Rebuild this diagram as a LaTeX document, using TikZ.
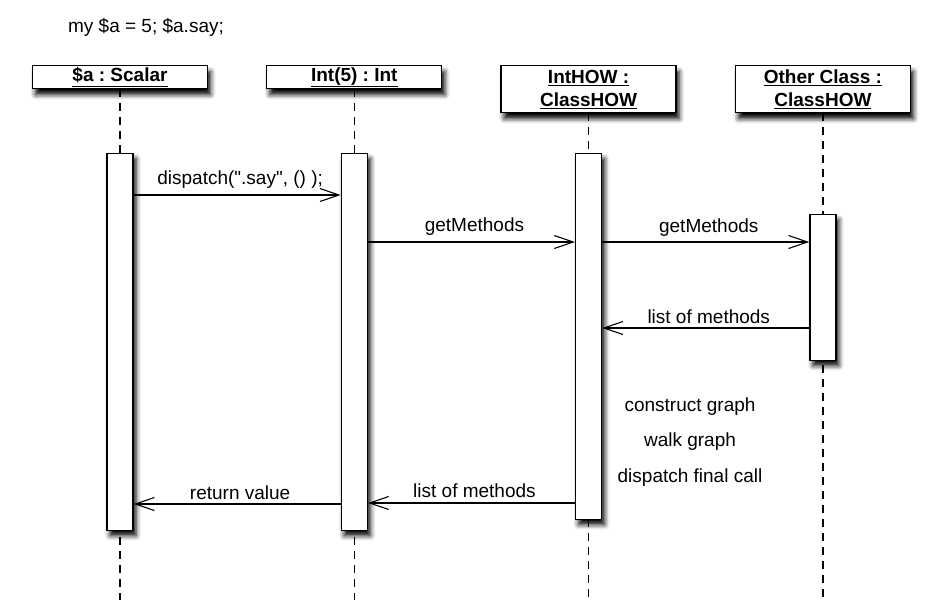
\documentclass[tikz,border=0pt]{standalone}
\usepackage{fontspec}
\setmainfont[Ligatures=TeXOff]{Liberation Sans}
\usepackage{tikz}
\usetikzlibrary{positioning, arrows.meta, shadows, shadows.blur}

\begin{document}
\begin{tikzpicture}[x=1pt, y=-1pt,
		txt/.style={font=\fontsize{19}{23}\selectfont\frenchspacing, inner sep=0pt},
		obj/.style={draw, line width=1.3pt, fill=white, minimum width=175pt, minimum height=23pt, inner sep=1pt,
			align=center, font=\fontsize{19}{23}\selectfont\bfseries\frenchspacing,
			blur shadow={shadow xshift=3pt, shadow yshift=-6pt, shadow blur radius=5pt, shadow opacity=100}},
		act/.style={draw, line width=1.3pt, fill=white, minimum width=26pt, inner sep=0pt, anchor=north,
			blur shadow={shadow xshift=3pt, shadow yshift=-5pt, shadow blur radius=5pt, shadow opacity=100}},
		life/.style={line width=1.2pt, dash pattern=on 8pt off 6pt},
		msg/.style={line width=1.1pt, -{Straight Barb[length=19pt, width=13pt, line width=1.1pt]}},
		lbl/.style={txt, anchor=base, xshift=3pt}
	]
		\useasboundingbox (0,0) rectangle (939,613);
		
		\node[txt] (code) at (146,27) {my \$a = 5; \$a.say;};
		
		\node[obj, anchor=north] (scalar) at (120,65) {\underline{\$a : Scalar\vphantom{()}}};
		\node[obj, right=58pt of scalar.north east, anchor=north west] (int) {\underline{Int(5) : Int}};
		\node[obj, minimum height=47pt, right=58pt of int.north east, anchor=north west] (inthow) {\underline{IntHOW :}\\\underline{ClassHOW}};
		\node[obj, minimum height=47pt, right=58pt of inthow.north east, anchor=north west] (other) {\underline{Other Class :}\\\underline{ClassHOW}};
		
		\coordinate (top) at (0,153);
		\coordinate (top2) at (0,214);
		\coordinate (bottom) at (0,600);
		
		\draw[life] (scalar.south) -- (scalar.south |- bottom);
		\draw[life] (int.south) -- (int.south |- bottom);
		\draw[life] (inthow.south) -- (inthow.south |- bottom);
		\draw[life] (other.south) -- (other.south |- bottom);
		
		\node[act, minimum height=377pt] (sbar) at (scalar |- top) {};
		\node[act, minimum height=377pt] (ibar) at (int |- top) {};
		\node[act, minimum height=366pt] (hbar) at (inthow |- top) {};
		\node[act, minimum height=146pt] (obar) at (other |- top2) {};
		
		\coordinate (m1) at (0,195);
		\coordinate (m2) at (0,242);
		\coordinate (m3) at (0,328);
		\coordinate (m4) at (0,503);
		\coordinate (m5) at (0,504);
		
		\draw[msg] (sbar.east |- m1) -- node[lbl, yshift=11pt] {dispatch(".say", () );} (ibar.west |- m1);
		\draw[msg] (ibar.east |- m2) -- node[lbl, yshift=10.5pt] {getMethods} (hbar.west |- m2);
		\draw[msg] (hbar.east |- m2) -- node[lbl, yshift=10pt] {getMethods} (obar.west |- m2);
		\draw[msg] (obar.west |- m3) -- node[lbl, yshift=5pt] {list of methods} (hbar.east |- m3);
		\draw[msg] (hbar.west |- m4) -- node[lbl, yshift=6pt] {list of methods} (ibar.east |- m4);
		\draw[msg] (ibar.west |- m5) -- node[lbl, yshift=5pt] {return value} (sbar.east |- m5);
		
		\node[txt] (construct) at (690,407) {construct graph};
		\node[txt] (walk) at (690,442) {walk graph};
		\node[txt] (final) at (690,478) {dispatch final call};
	\end{tikzpicture}
\end{document}
